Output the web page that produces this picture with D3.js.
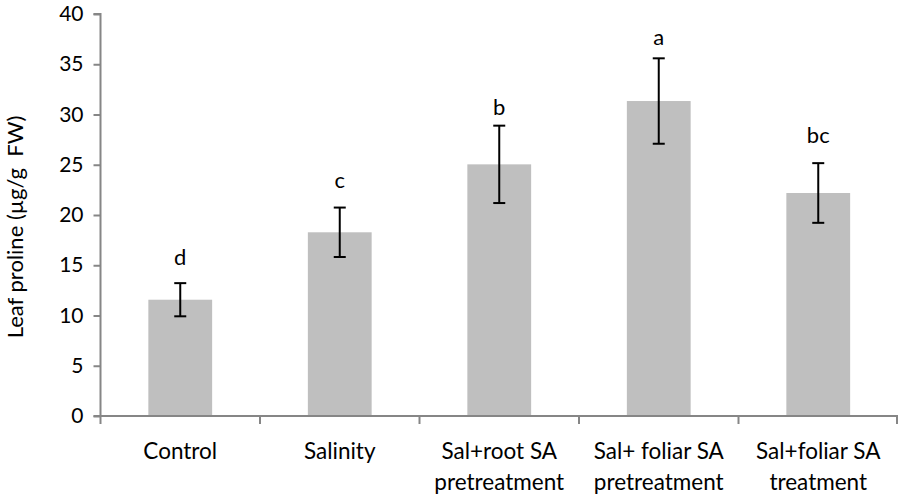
<!DOCTYPE html>
<html>
<head>
<meta charset="utf-8">
<script src="https://cdn.jsdelivr.net/npm/d3@7"></script>
<style>
  html, body { margin: 0; padding: 0; background: #fff; }
  svg { display: block; }
  text { font-family: Lato, "Open Sans", sans-serif; fill: #000; }
</style>
</head>
<body>
<svg id="chart" width="898" height="499"></svg>
<script>
const categories = [
  ["Control"],
  ["Salinity"],
  ["Sal+root SA", "pretreatment"],
  ["Sal+ foliar SA", "pretreatment"],
  ["Sal+foliar SA", "treatment"]
];
const values = [11.57, 18.28, 25.04, 31.34, 22.19];
const errors = [1.65, 2.46, 3.85, 4.25, 2.97];
const letters = ["d", "c", "b", "a", "bc"];
const letterY = [15.0, 22.66, 30.0, 36.9, 27.2];
const yTicks = [0, 5, 10, 15, 20, 25, 30, 35, 40];
const yLabel = "Leaf proline (\u00b5g/g  FW)";

(function () {
const svg = d3.select("#chart");
const mLeft = 100.5, mRight = 898, mTop = 14, mBottom = 416;

const keys = categories.map((c, i) => i);
const x = d3.scaleBand().domain(keys).range([mLeft, mRight]).paddingInner(0.6).paddingOuter(0.3);
const xb = d3.scaleBand().domain(keys).range([mLeft, mRight]);
const y = d3.scaleLinear().domain([0, 40]).range([mBottom, mTop]);

const axisColor = "#868686";

// bars
svg.append("g").selectAll("rect").data(values).join("rect")
  .attr("x", (d, i) => x(i))
  .attr("width", x.bandwidth())
  .attr("y", d => y(d))
  .attr("height", d => y(0) - y(d))
  .attr("fill", "#bfbfbf");

// y axis
const yAxis = d3.axisLeft(y).tickValues(yTicks).tickSize(7).tickPadding(10).tickFormat(d3.format("d"));
const gy = svg.append("g").attr("transform", `translate(${mLeft},0)`).call(yAxis);
gy.select(".domain").attr("stroke", axisColor).attr("stroke-width", 2).attr("d", `M-7,${y(40)}H0V${y(0)}`);
gy.selectAll(".tick line").attr("stroke", axisColor).attr("stroke-width", 2);
gy.selectAll(".tick text").style("font-size", "21px").style("font-family", "Lato, sans-serif").attr("fill", "#000");

// x axis line with boundary ticks
const gx = svg.append("g");
gx.append("line").attr("x1", mLeft - 7).attr("x2", mRight).attr("y1", y(0)).attr("y2", y(0))
  .attr("stroke", axisColor).attr("stroke-width", 2);
const bounds = keys.map(k => xb(k)).concat([mRight - 1]);
gx.selectAll("line.bt").data(bounds).join("line").attr("class", "bt")
  .attr("x1", d => d).attr("x2", d => d)
  .attr("y1", y(0)).attr("y2", y(0) + 8)
  .attr("stroke", axisColor).attr("stroke-width", 2);

// category labels
const lab = svg.append("g").selectAll("text").data(categories).join("text")
  .attr("text-anchor", "middle")
  .style("font-size", "22.5px");
lab.each(function(lines, i) {
  const t = d3.select(this);
  lines.forEach((ln, j) => {
    t.append("tspan").attr("x", x(i) + x.bandwidth() / 2).attr("y", 459 + j * 31).text(ln);
  });
});

// error bars
const eb = svg.append("g").attr("stroke", "#000").attr("stroke-width", 2);
values.forEach((v, i) => {
  const cx = x(i) + x.bandwidth() / 2;
  const hi = y(v + errors[i]), lo = y(v - errors[i]);
  eb.append("line").attr("x1", cx).attr("x2", cx).attr("y1", hi).attr("y2", lo);
  eb.append("line").attr("x1", cx - 6).attr("x2", cx + 6).attr("y1", hi).attr("y2", hi);
  eb.append("line").attr("x1", cx - 6).attr("x2", cx + 6).attr("y1", lo).attr("y2", lo);
});

// letters
svg.append("g").selectAll("text").data(letters).join("text")
  .attr("x", (d, i) => x(i) + x.bandwidth() / 2)
  .attr("y", (d, i) => y(letterY[i]))
  .attr("text-anchor", "middle")
  .style("font-size", "22px")
  .text(d => d);

// y label
svg.append("text")
  .attr("transform", `translate(23,227) rotate(-90)`)
  .attr("text-anchor", "middle")
  .style("font-size", "22px")
  .style("white-space", "pre")
  .text(yLabel);
})();
</script>
</body>
</html>
